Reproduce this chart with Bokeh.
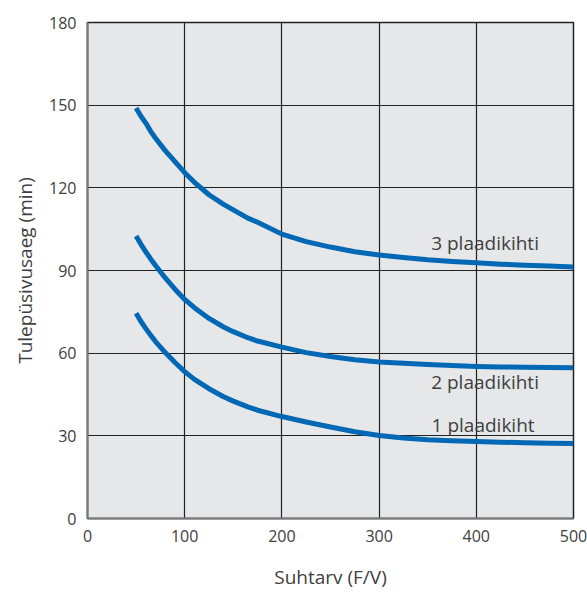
from bokeh.plotting import figure
from bokeh.models import FixedTicker, Range1d
from bokeh.core.properties import value
from bokeh.embed import file_html
from bokeh.resources import INLINE

x_vals = [50, 55, 60, 65, 70, 80, 90, 100, 110, 125, 140, 150, 165, 175, 200,
          225, 250, 275, 300, 325, 350, 375, 400, 425, 450, 475, 500]
three_layers = [149, 146, 143.5, 140.5, 138, 133.5, 129.5, 125.5, 122, 117.5, 114, 112, 109, 107.5, 103.2,
                100.5, 98.5, 96.8, 95.6, 94.7, 93.9, 93.3, 92.8, 92.3, 91.9, 91.6, 91.3]
two_layers = [102.5, 99.5, 96.8, 94.2, 91.8, 87.3, 83.2, 79.5, 76.5, 72.6, 69.5, 67.8, 65.6, 64.4, 62.2,
              60.2, 58.8, 57.6, 56.8, 56.3, 55.9, 55.5, 55.2, 55, 54.9, 54.8, 54.7]
one_layer = [74.5, 71.5, 68.9, 66.5, 64.2, 60.2, 56.6, 53.3, 50.5, 47.1, 44.2, 42.6, 40.5, 39.3, 37,
             35, 33.2, 31.5, 30.1, 29.2, 28.6, 28.2, 27.9, 27.7, 27.5, 27.3, 27.2]

labels = ["3 plaadikihti", "2 plaadikihti", "1 plaadikiht"]
label_x = [409, 409, 407]
label_y = [99.8, 49.7, 34.1]

x_ticks = [0, 100, 200, 300, 400, 500]
y_ticks = [0, 30, 60, 90, 120, 150, 180]

FONT = "Open Sans"
TXT = "#404040"

p = figure(width=587, height=593, output_backend="svg", toolbar_location=None,
           x_range=Range1d(0, 500), y_range=Range1d(0, 180),
           min_border_left=87, min_border_right=14, min_border_top=22, min_border_bottom=75)
p.background_fill_color = "#e6e7e9"
p.border_fill_color = "white"
p.outline_line_color = "#222222"
p.outline_line_width = 1.5

for ax in (p.xaxis, p.yaxis):
    ax.major_tick_in = 0
    ax.major_tick_out = 0
    ax.minor_tick_in = 0
    ax.minor_tick_out = 0
    ax.axis_line_color = "#7a7a7a"
    ax.axis_line_width = 2
    ax.major_label_text_font = FONT
    ax.major_label_text_font_size = "16px"
    ax.major_label_text_color = TXT
    ax.axis_label_text_font = FONT
    ax.axis_label_text_font_size = "19px"
    ax.axis_label_text_color = TXT
    ax.axis_label_text_font_style = "normal"

p.xaxis.ticker = FixedTicker(ticks=x_ticks)
p.yaxis.ticker = FixedTicker(ticks=y_ticks)
p.xaxis.axis_label = "Suhtarv (F/V)"
p.yaxis.axis_label = "Tulepüsivusaeg (min)"
p.xaxis.major_label_standoff = 11
p.yaxis.major_label_standoff = 11
p.xaxis.axis_label_standoff = 19
p.yaxis.axis_label_standoff = 8

p.xgrid.ticker = FixedTicker(ticks=x_ticks)
p.ygrid.ticker = FixedTicker(ticks=y_ticks)
for g in (p.xgrid, p.ygrid):
    g.grid_line_color = "#222222"
    g.grid_line_width = 1.2

line_color = "#0068b4"
for ys in (three_layers, two_layers, one_layer):
    p.line(x_vals, ys, line_color=line_color, line_width=5, line_cap="butt", line_join="round")

p.text(x=label_x, y=label_y, text=labels, text_align="center", text_baseline="middle",
       text_font=value(FONT), text_font_size="19px", text_color=TXT)

open("out.html", "w").write(file_html(p, INLINE))
